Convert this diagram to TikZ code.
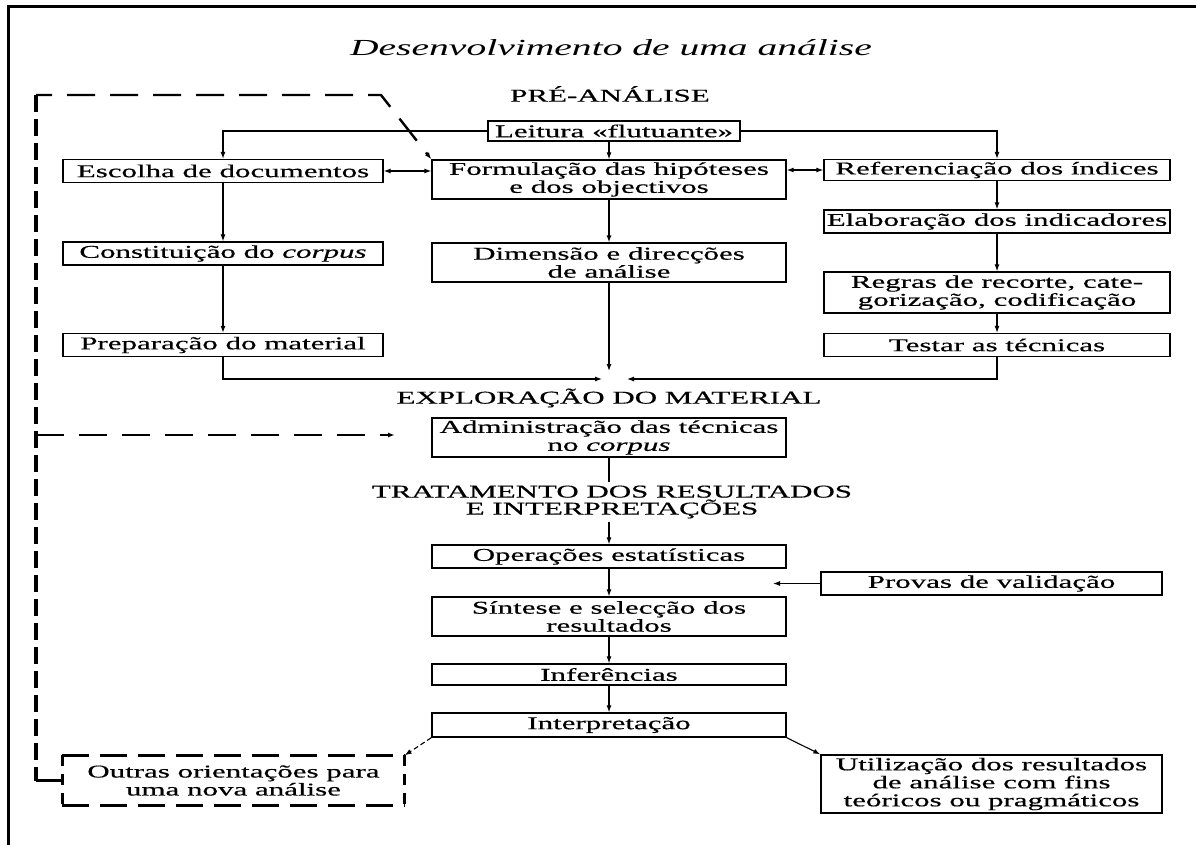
\documentclass[tikz,border=0pt]{standalone}
\usepackage{fontspec}
\setmainfont{Liberation Serif}[FakeStretch=1.72,FakeBold=0.5]
\newfontfamily\tituloFont{Liberation Serif}[FakeStretch=1.72]
\usetikzlibrary{arrows.meta}

\begin{document}
\begin{tikzpicture}[x=1pt,y=-1pt,
    >={Latex[length=7pt,width=5pt]},
    box/.style={draw,line width=1.3pt,inner sep=1pt,align=center,minimum height=23pt,font=\fontsize{18}{18}\selectfont},
    lbox/.style={box,minimum width=320pt},
    mbox/.style={box,minimum width=354pt},
    rbox/.style={box,minimum width=346pt},
    head/.style={align=center,font=\fontsize{18}{17}\selectfont},
    link/.style={line width=1.1pt},
    dashH/.style={line width=2.4pt,dash pattern=on 28pt off 15pt},
    dashV/.style={line width=3.4pt,dash pattern=on 17pt off 7pt},
    sideH/.style={line width=2.4pt,dash pattern=on 27pt off 11pt},
    sideV/.style={line width=3.2pt,dash pattern=on 11pt off 8pt}]
    \useasboundingbox (0,0) rectangle (1196,845);
    \draw[line width=3pt] (8,845) -- (8,7) -- (1196,7);
    \node[font=\fontsize{23}{23}\selectfont\tituloFont\itshape] (titulo) at (611,48) {Desenvolvimento de uma análise};
    \node[head] (pre) at (610,94) {PRÉ-ANÁLISE};
    \node[box,minimum height=20pt,inner xsep=7pt] (leitura) at (614,131) {Leitura «flutuante»};
    \node[lbox] (escolha) at (223,171) {Escolha de documentos};
    \node[mbox,minimum height=39pt] (formul) at (609,179.5) {Formulação das hipóteses\\e dos objectivos};
    \node[rbox,minimum height=21pt] (refer) at (997,170) {Referenciação dos índices};
    \node[rbox] (elab) at (997,221.5) {Elaboração dos indicadores};
    \node[lbox] (const) at (223,253.5) {Constituição do \textit{corpus}};
    \node[mbox,minimum height=39pt] (dimens) at (609,262.5) {Dimensão e direcções\\de análise};
    \node[rbox,minimum height=41pt] (regras) at (997,292.5) {Regras de recorte, cate-\\gorização, codificação};
    \node[lbox] (prep) at (223,345) {Preparação do material};
    \node[rbox] (testar) at (997,345) {Testar as técnicas};
    \draw[link,->] (leitura.west) -| (escolha.north);
    \draw[link,->] (leitura.east) -| (refer.north);
    \draw[link,->] (leitura.south -| formul.north) -- (formul.north);
    \draw[link,<->] (escolha.east) -- (escolha.east -| formul.west);
    \draw[link,<->] (formul.east |- refer.west) -- (refer.west);
    \draw[link,->] (escolha) -- (const);
    \draw[link,->] (const) -- (prep);
    \draw[link,->] (formul) -- (dimens);
    \draw[link,->] (refer) -- (elab);
    \draw[link,->] (elab) -- (regras);
    \draw[link,->] (regras) -- (testar);
    \coordinate (jL) at (602,379);
    \coordinate (jR) at (627,379);
    \coordinate (jV) at (609,371);
    \draw[link,->] (prep.south) |- (jL);
    \draw[link,->] (testar.south) |- (jR);
    \draw[link,->] (dimens.south) -- (jV);
    \node[head] (explor) at (609,398) {EXPLORAÇÃO DO MATERIAL};
    \node[mbox,minimum height=39pt] (admin) at (609,437.5) {Administração das técnicas\\no \textit{corpus}};
    \node[head] (tratam) at (612,502) {TRATAMENTO DOS RESULTADOS\\E INTERPRETAÇÕES};
    \draw[link] (admin.south) -- (admin.south |- tratam.north);
    \node[mbox] (oper) at (609,556.5) {Operações estatísticas};
    \node[mbox,minimum height=39pt] (sintese) at (609,616.5) {Síntese e selecção dos\\resultados};
    \node[mbox,minimum height=21pt] (infer) at (609,674.5) {Inferências};
    \node[mbox,minimum height=24pt] (interp) at (609,725) {Interpretação};
    \draw[link,->] (tratam.south -| oper.north) -- (oper.north);
    \draw[link,->] (oper) -- (sintese);
    \draw[link,->] (sintese) -- (infer);
    \draw[link,->] (infer) -- (interp);
    \node[box,minimum width=341pt] (provas) at (991.5,583.5) {Provas de validação};
    \coordinate (provasTip) at (773,583.5);
    \draw[link,->] (provas) -- (provasTip);
    \node[box,draw=none,minimum width=341pt,minimum height=49pt] (outras) at (233.5,780.5) {Outras orientações para\\uma nova análise};
    \draw[sideH] (outras.north west) -- (outras.north east);
    \draw[sideH] (outras.south west) -- (outras.south east);
    \draw[sideV] (outras.north west) -- (outras.south west);
    \draw[sideV] (outras.north east) -- (outras.south east);
    \node[box,minimum width=341pt,minimum height=58pt] (util) at (991.5,784) {Utilização dos resultados\\de análise com fins\\teóricos ou pragmáticos};
    \draw[link,dash pattern=on 5pt off 3pt,->] (interp.south west) -- (outras.north east);
    \draw[link,->] (interp.south east) -- (util.north west);
    \coordinate (fbBottom) at (36,780.5);
    \coordinate (fbTop) at (36,95);
    \coordinate (fbKnee) at (381,95);
    \coordinate (fbMid) at (36,435);
    \coordinate (fbEnd) at (395,435);
    \draw[line width=2.6pt] (outras.west) -- (fbBottom);
    \draw[dashV] (fbTop) -- (fbBottom);
    \draw[dashH,dash phase=12pt,->] (fbTop) -- (fbKnee) -- (formul.north west);
    \draw[dashH,->] (fbMid) -- (fbEnd);
\end{tikzpicture}
\end{document}
